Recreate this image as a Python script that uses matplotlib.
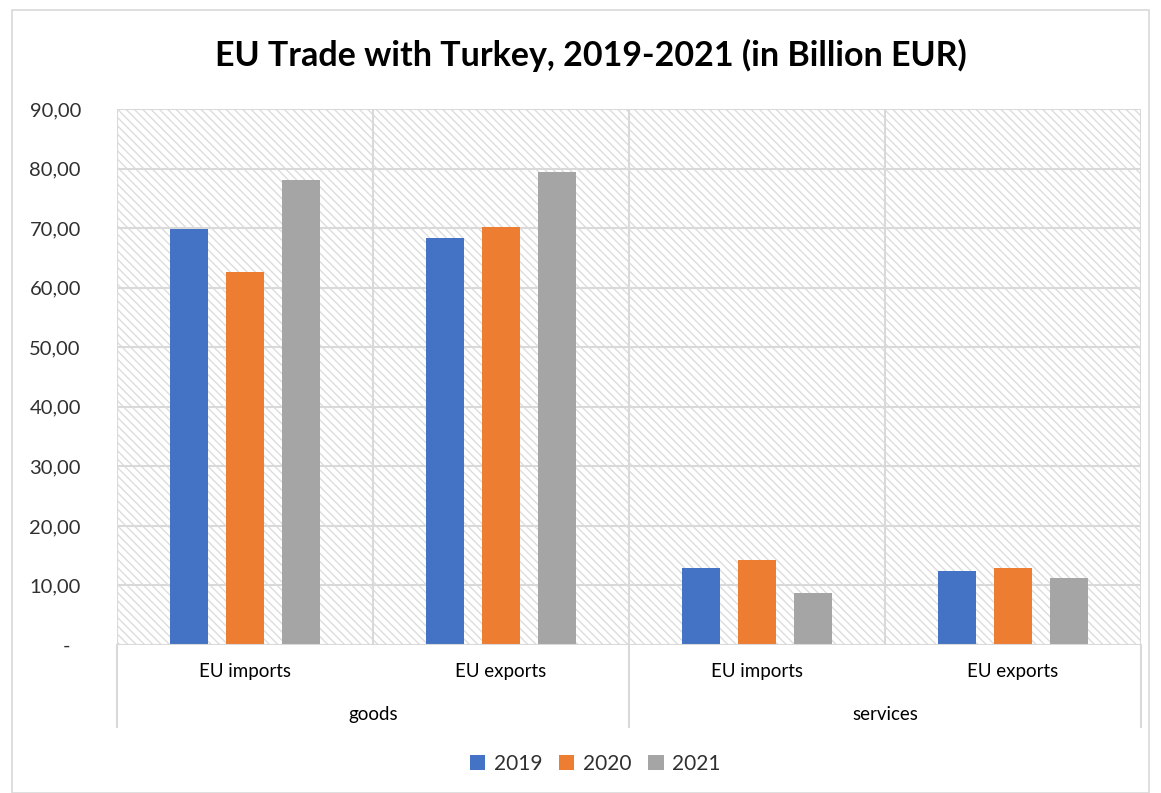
import numpy as np
import matplotlib
matplotlib.use('Agg')
import matplotlib.pyplot as plt
from matplotlib.patches import Rectangle

# data
groups = ['goods', 'services']
categories = ['EU imports', 'EU exports', 'EU imports', 'EU exports']
years = ['2019', '2020', '2021']
values_2019 = [69.8, 68.3, 12.9, 12.4]
values_2020 = [62.6, 70.2, 14.3, 12.9]
values_2021 = [78.1, 79.4, 8.7, 11.2]
colors = ['#4472C4', '#ED7D31', '#A5A5A5']

plt.rcParams['font.family'] = ['Lato', 'DejaVu Sans']
plt.rcParams['hatch.linewidth'] = 1.0

fig = plt.figure(figsize=(11.61, 7.93), dpi=100)
ax = fig.add_axes([117 / 1161, 1 - 645 / 793, 1024 / 1161, 536 / 793])

# outer chart border
fig.patches.append(Rectangle((12 / 1161, 0), 1137 / 1161, 1 - 10 / 793,
                             transform=fig.transFigure, fill=False,
                             edgecolor='#D9D9D9', linewidth=1.2))

# hatched plot area background
ax.add_patch(Rectangle((0, 0), 1, 1, transform=ax.transAxes, facecolor='white',
                       edgecolor='#DDDDDD', hatch='\\\\\\\\', linewidth=0, zorder=0))

x = np.arange(len(categories))
width = 0.15
offset = 0.218
for i, (vals, col, lab) in enumerate(zip([values_2019, values_2020, values_2021], colors, years)):
    ax.bar(x + (i - 1) * offset, vals, width, color=col, label=lab, zorder=3)

ax.set_xlim(-0.5, 3.5)
ax.set_ylim(0, 90)
ax.set_yticks(np.arange(0, 91, 10))
ax.set_yticklabels(['-  '] + [f'{v:.2f}'.replace('.', ',') for v in range(10, 91, 10)])
ax.tick_params(axis='y', length=0, pad=26, labelsize=14.5, labelcolor='#303030')
ax.set_xticks([])

for y in range(10, 91, 10):
    ax.axhline(y, color='#D9D9D9', linewidth=1.5, zorder=1)
for xv in [-0.5, 0.5, 1.5, 2.5, 3.5]:
    ax.axvline(xv, color='#D9D9D9', linewidth=1.5, zorder=1)
ax.axhline(0, color='#D9D9D9', linewidth=1.5, zorder=4)

for s in ax.spines.values():
    s.set_visible(False)

# multi-level category axis
trans = ax.get_xaxis_transform()
for i, cat in enumerate(categories):
    ax.text(i, -0.05, cat, transform=trans, ha='center', va='center', fontsize=13.5)
for j, grp in enumerate(groups):
    ax.text(2 * j + 0.5, -0.129, grp, transform=trans, ha='center', va='center', fontsize=13.5)
for xv in [-0.5, 1.5, 3.5]:
    ax.plot([xv, xv], [0, -0.153], transform=trans, color='#D9D9D9',
            linewidth=1.5, clip_on=False)

fig.text(591 / 1161, 1 - 55 / 793, 'EU Trade with Turkey, 2019-2021 (in Billion EUR)',
         ha='center', va='center', fontsize=24.5, fontweight='bold')

fig.legend(loc='center', bbox_to_anchor=(595 / 1161, 1 - 764 / 793), ncol=3,
           frameon=False, fontsize=15, handlelength=0.75, handleheight=0.75,
           handletextpad=0.4, columnspacing=0.8, labelcolor='#303030')

fig.savefig('out.png', dpi=100)
